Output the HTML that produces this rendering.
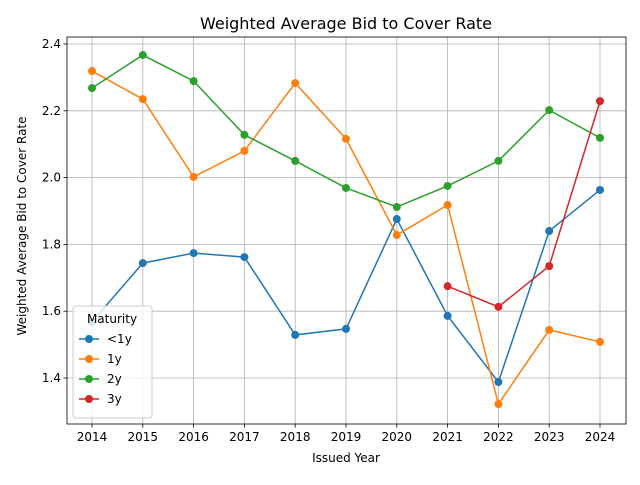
<!DOCTYPE html>
<html><head><meta charset="utf-8"><style>
body{margin:0;background:#fff;}
svg text{font-family:"DejaVu Sans","Liberation Sans",sans-serif;fill:#000;}
</style></head><body>
<svg id="chart" width="640" height="480" xmlns="http://www.w3.org/2000/svg">
<rect width="640" height="480" fill="#fff"/>
<text x="346" y="29" font-size="16" text-anchor="middle">Weighted Average Bid to Cover Rate</text>
<g id="grid"></g>
<g id="axes"></g>
<g id="series"></g>
<text x="346" y="462" font-size="12" text-anchor="middle">Issued Year</text>
<text transform="translate(26,226) rotate(-90)" font-size="12" text-anchor="middle">Weighted Average Bid to Cover Rate</text>
<g id="legend"></g>
</svg>
<script>
const years=[2014,2015,2016,2017,2018,2019,2020,2021,2022,2023,2024];
const yTicks=[1.4,1.6,1.8,2.0,2.2,2.4];
const yTickLabels=["1.4","1.6","1.8","2.0","2.2","2.4"];
const seriesNames=["<1y","1y","2y","3y"];
const colors=["#1f77b4","#ff7f0e","#2ca02c","#d62728"];
const lt1y=[1.568,1.744,1.774,1.762,1.529,1.547,1.876,1.586,1.388,1.84,1.963];
const y1=[2.319,2.235,2.002,2.08,2.283,2.116,1.828,1.918,1.322,1.544,1.508];
const y2=[2.268,2.367,2.289,2.128,2.05,1.969,1.912,1.975,2.05,2.202,2.119];
const y3=[null,null,null,null,null,null,null,1.675,1.613,1.735,2.229];
const allSeries=[lt1y,y1,y2,y3];
const L=67,R=626,T=37,B=424;
const xs=y=>92+(y-2014)*(600-92)/10;
const ys=v=>44+(2.4-v)*334;
const NS="http://www.w3.org/2000/svg";
function mk(tag,attrs,parent){const e=document.createElementNS(NS,tag);for(const k in attrs)e.setAttribute(k,attrs[k]);parent.appendChild(e);return e;}
const grid=document.getElementById('grid'),axes=document.getElementById('axes'),ser=document.getElementById('series'),leg=document.getElementById('legend');
years.forEach(y=>{
 const g=mk('line',{x1:xs(y),x2:xs(y),y1:T,y2:B,stroke:'#b0b0b0','stroke-width':0.8},grid);
 
 
 mk('line',{x1:xs(y),x2:xs(y),y1:B,y2:B+3.5,stroke:'#000','stroke-width':0.8},axes);
 const t=mk('text',{x:xs(y),y:B+17,'font-size':12,'text-anchor':'middle'},axes);t.textContent=y;
 
 
});
yTicks.forEach((v,i)=>{
 const g=mk('line',{x1:L,x2:R,y1:ys(v),y2:ys(v),stroke:'#b0b0b0','stroke-width':0.8},grid);
 
 
 mk('line',{x1:L-3.5,x2:L,y1:ys(v),y2:ys(v),stroke:'#000','stroke-width':0.8},axes);
 const t=mk('text',{x:L-6,y:ys(v)+4,'font-size':12,'text-anchor':'end'},axes);t.textContent=yTickLabels[i];
 
 
});
const frame=mk('rect',{x:L,y:T,width:R-L,height:B-T,fill:'none',stroke:'#000','stroke-width':0.8},axes);


allSeries.forEach((s,si)=>{
 const g=mk('g',{},ser);
 
 
 const pts=[];s.forEach((v,i)=>{if(v!==null)pts.push([xs(years[i]),ys(v)]);});
 mk('polyline',{points:pts.map(p=>p.join(',')).join(' '),fill:'none',stroke:colors[si],'stroke-width':1.5},g);
 pts.forEach(p=>{const c=mk('circle',{cx:p[0],cy:p[1],r:4,fill:colors[si]},g);
  
  });
});
const box=mk('rect',{x:73,y:306,width:79,height:112,rx:3,fill:'#fff','fill-opacity':0.8,stroke:'#ccc'},leg);


const lt=mk('text',{x:112,y:323,'font-size':12,'text-anchor':'middle'},leg);lt.textContent='Maturity';


seriesNames.forEach((n,i)=>{
 const y=339+i*20;
 const g=mk('g',{},leg);
 
 
 mk('line',{x1:79,x2:99,y1:y,y2:y,stroke:colors[i],'stroke-width':1.5},g);
 mk('circle',{cx:89,cy:y,r:4,fill:colors[i]},g);
 const t=mk('text',{x:107,y:y+4,'font-size':12},g);t.textContent=n;
});
</script>
</body></html>
